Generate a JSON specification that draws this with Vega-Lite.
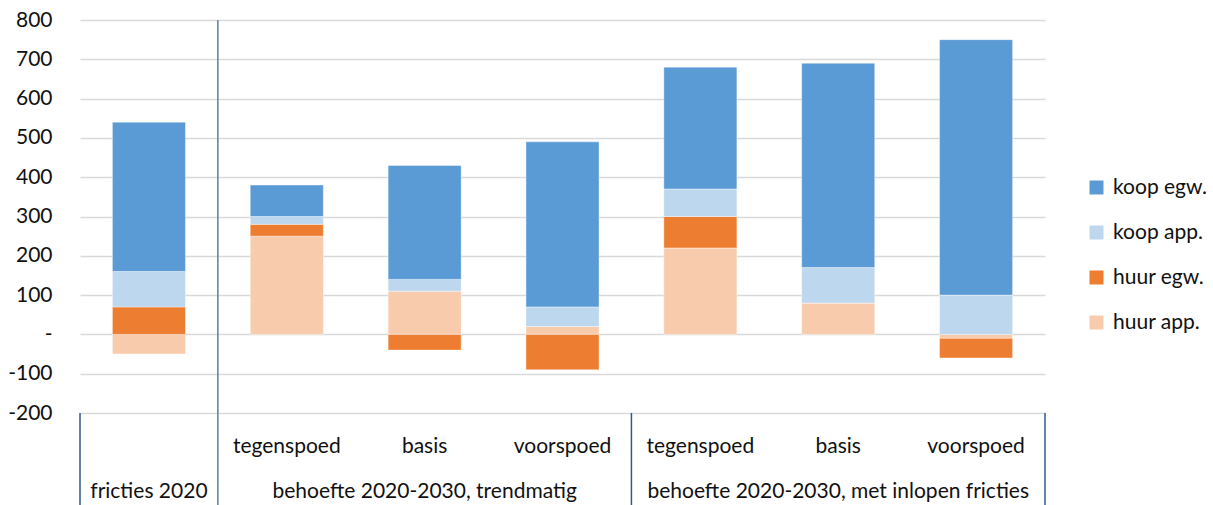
{
  "$schema": "https://vega.github.io/schema/vega-lite/v6.json",
  "width": 965,
  "height": 393,
  "autosize": {"type": "none"},
  "padding": {"left": 80, "top": 20, "right": 168, "bottom": 92},
  "background": "white",
  "config": {
    "font": "Lato",
    "view": {"stroke": null},
    "axis": {"labelFont": "Lato", "labelColor": "#111111", "labelFontSize": 21}
  },
  "datasets": {
    "bars": [
      {"cat": "fricties 2020", "type": "huur app.", "value": -50},
      {"cat": "fricties 2020", "type": "huur egw.", "value": 70},
      {"cat": "fricties 2020", "type": "koop app.", "value": 90},
      {"cat": "fricties 2020", "type": "koop egw.", "value": 380},
      {"cat": "tegenspoed (trendmatig)", "type": "huur app.", "value": 250},
      {"cat": "tegenspoed (trendmatig)", "type": "huur egw.", "value": 30},
      {"cat": "tegenspoed (trendmatig)", "type": "koop app.", "value": 20},
      {"cat": "tegenspoed (trendmatig)", "type": "koop egw.", "value": 80},
      {"cat": "basis (trendmatig)", "type": "huur app.", "value": 110},
      {"cat": "basis (trendmatig)", "type": "huur egw.", "value": -40},
      {"cat": "basis (trendmatig)", "type": "koop app.", "value": 30},
      {"cat": "basis (trendmatig)", "type": "koop egw.", "value": 290},
      {"cat": "voorspoed (trendmatig)", "type": "huur app.", "value": 20},
      {"cat": "voorspoed (trendmatig)", "type": "huur egw.", "value": -90},
      {"cat": "voorspoed (trendmatig)", "type": "koop app.", "value": 50},
      {"cat": "voorspoed (trendmatig)", "type": "koop egw.", "value": 420},
      {"cat": "tegenspoed (met inlopen fricties)", "type": "huur app.", "value": 220},
      {"cat": "tegenspoed (met inlopen fricties)", "type": "huur egw.", "value": 80},
      {"cat": "tegenspoed (met inlopen fricties)", "type": "koop app.", "value": 70},
      {"cat": "tegenspoed (met inlopen fricties)", "type": "koop egw.", "value": 310},
      {"cat": "basis (met inlopen fricties)", "type": "huur app.", "value": 80},
      {"cat": "basis (met inlopen fricties)", "type": "huur egw.", "value": 0},
      {"cat": "basis (met inlopen fricties)", "type": "koop app.", "value": 90},
      {"cat": "basis (met inlopen fricties)", "type": "koop egw.", "value": 520},
      {"cat": "voorspoed (met inlopen fricties)", "type": "huur app.", "value": -10},
      {"cat": "voorspoed (met inlopen fricties)", "type": "huur egw.", "value": -50},
      {"cat": "voorspoed (met inlopen fricties)", "type": "koop app.", "value": 100},
      {"cat": "voorspoed (met inlopen fricties)", "type": "koop egw.", "value": 650}
    ],
    "groupStarts": [
      {"cat": "fricties 2020"},
      {"cat": "tegenspoed (met inlopen fricties)"}
    ],
    "innerDivider": [
      {"cat": "tegenspoed (trendmatig)"}
    ],
    "groupEnd": [
      {"cat": "voorspoed (met inlopen fricties)"}
    ]
  },
  "layer": [
    {
      "data": {"name": "bars"},
      "mark": {"type": "bar", "width": {"band": 0.53}, "stroke": "#ffffff", "strokeWidth": 0.8, "strokeOpacity": 0.5},
      "encoding": {
        "x": {
          "field": "cat",
          "type": "nominal",
          "sort": null,
          "scale": {"domain": ["fricties 2020", "tegenspoed (trendmatig)", "basis (trendmatig)", "voorspoed (trendmatig)", "tegenspoed (met inlopen fricties)", "basis (met inlopen fricties)", "voorspoed (met inlopen fricties)"], "paddingInner": 0, "paddingOuter": 0},
          "axis": {
            "title": null,
            "domain": false,
            "ticks": false,
            "grid": false,
            "labelAngle": 0,
            "labelOverlap": false,
            "labelBound": false,
            "labelFlush": false,
            "labelLimit": 0,
            "labelBaseline": "alphabetic",
            "labelPadding": 39,
            "labelLineHeight": 45,
            "labelExpr": "datum.value == 'fricties 2020' ? ['', 'fricties 2020'] : datum.value == 'basis (trendmatig)' ? ['basis', 'behoefte 2020-2030, trendmatig'] : datum.value == 'basis (met inlopen fricties)' ? ['basis', 'behoefte 2020-2030, met inlopen fricties'] : [split(datum.value, ' (')[0]]"
          }
        },
        "y": {
          "field": "value",
          "type": "quantitative",
          "stack": "zero",
          "scale": {"domain": [-200, 800], "nice": false, "zero": false},
          "axis": {
            "title": null,
            "values": [-200, -100, 0, 100, 200, 300, 400, 500, 600, 700, 800],
            "tickCount": 11,
            "labelOverlap": false,
            "labelBound": false,
            "labelFlush": false,
            "domain": false,
            "ticks": false,
            "grid": true,
            "gridColor": "#D9D9D9",
            "gridWidth": 1.5,
            "labelPadding": 28,
            "labelExpr": "datum.value == 0 ? '-\u00a0\u00a0' : '' + datum.value"
          }
        },
        "color": {
          "field": "type",
          "type": "nominal",
          "scale": {
            "domain": ["koop egw.", "koop app.", "huur egw.", "huur app."],
            "range": ["#5B9BD5", "#BDD7EE", "#ED7D31", "#F8CBAD"]
          },
          "legend": {
            "title": null,
            "orient": "none",
            "legendX": 1006,
            "legendY": 157,
            "symbolType": "square",
            "symbolSize": 196,
            "symbolStrokeWidth": 0,
            "labelFont": "Lato",
            "labelFontSize": 21,
            "labelColor": "#111111",
            "labelOffset": 6,
            "rowPadding": 23
          }
        },
        "order": {"field": "type", "sort": "ascending"}
      }
    },
    {
      "mark": {"type": "rule", "color": "#2F5A8C", "strokeWidth": 2},
      "encoding": {
        "y": {
          "datum": 0,
          "type": "quantitative",
          "axis": {
            "title": null,
            "values": [-200, -100, 0, 100, 200, 300, 400, 500, 600, 700, 800],
            "tickCount": 11,
            "labelOverlap": false,
            "labelBound": false,
            "labelFlush": false,
            "domain": false,
            "ticks": false,
            "grid": true,
            "gridColor": "#D9D9D9",
            "gridWidth": 1.5,
            "labelPadding": 28,
            "labelExpr": "datum.value == 0 ? '-\u00a0\u00a0' : '' + datum.value"
          }
        }
      }
    },
    {
      "data": {"name": "innerDivider"},
      "mark": {"type": "rule", "color": "#5F7FA6", "strokeWidth": 1.5},
      "encoding": {
        "x": {"field": "cat", "type": "nominal", "sort": null, "bandPosition": 0},
        "y": {
          "datum": 800,
          "type": "quantitative",
          "axis": {
            "title": null,
            "values": [-200, -100, 0, 100, 200, 300, 400, 500, 600, 700, 800],
            "tickCount": 11,
            "labelOverlap": false,
            "labelBound": false,
            "labelFlush": false,
            "domain": false,
            "ticks": false,
            "grid": true,
            "gridColor": "#D9D9D9",
            "gridWidth": 1.5,
            "labelPadding": 28,
            "labelExpr": "datum.value == 0 ? '-\u00a0\u00a0' : '' + datum.value"
          }
        },
        "y2": {"datum": -440}
      }
    },
    {
      "data": {"name": "groupStarts"},
      "mark": {"type": "rule", "color": "#2F5A8C", "strokeWidth": 1.5},
      "encoding": {
        "x": {"field": "cat", "type": "nominal", "sort": null, "bandPosition": 0},
        "y": {
          "datum": -200,
          "type": "quantitative",
          "axis": {
            "title": null,
            "values": [-200, -100, 0, 100, 200, 300, 400, 500, 600, 700, 800],
            "tickCount": 11,
            "labelOverlap": false,
            "labelBound": false,
            "labelFlush": false,
            "domain": false,
            "ticks": false,
            "grid": true,
            "gridColor": "#D9D9D9",
            "gridWidth": 1.5,
            "labelPadding": 28,
            "labelExpr": "datum.value == 0 ? '-\u00a0\u00a0' : '' + datum.value"
          }
        },
        "y2": {"datum": -440}
      }
    },
    {
      "data": {"name": "groupEnd"},
      "mark": {"type": "rule", "color": "#2F5A8C", "strokeWidth": 1.5},
      "encoding": {
        "x": {"field": "cat", "type": "nominal", "sort": null, "bandPosition": 1},
        "y": {
          "datum": -200,
          "type": "quantitative",
          "axis": {
            "title": null,
            "values": [-200, -100, 0, 100, 200, 300, 400, 500, 600, 700, 800],
            "tickCount": 11,
            "labelOverlap": false,
            "labelBound": false,
            "labelFlush": false,
            "domain": false,
            "ticks": false,
            "grid": true,
            "gridColor": "#D9D9D9",
            "gridWidth": 1.5,
            "labelPadding": 28,
            "labelExpr": "datum.value == 0 ? '-\u00a0\u00a0' : '' + datum.value"
          }
        },
        "y2": {"datum": -440}
      }
    }
  ]
}
